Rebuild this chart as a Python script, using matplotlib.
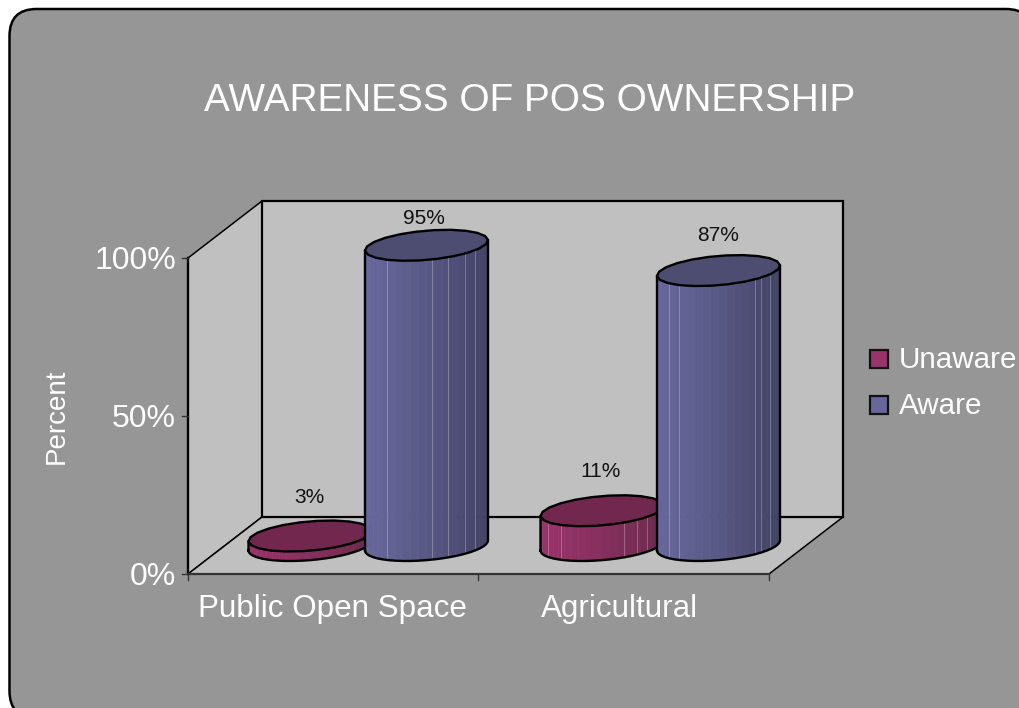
import numpy as np
import matplotlib
matplotlib.use("Agg")
import matplotlib.pyplot as plt
from matplotlib.patches import FancyBboxPatch, Polygon, Rectangle
from matplotlib.colors import to_rgb

plt.rcParams['font.family'] = ['Liberation Sans', 'DejaVu Sans']

categories = ['Public Open Space', 'Agricultural']
series_names = ['Unaware', 'Aware']
unaware = [3, 11]
aware = [95, 87]
y_ticks = [0, 50, 100]
y_tick_labels = ['0%', '50%', '100%']

title = 'AWARENESS OF POS OWNERSHIP'
y_label = 'Percent'

# pseudo 3d box, in pixels of the 1020x708 picture
FRONT_LEFT = 188
FRONT_RIGHT = 769
FLOOR_Y = 574
DX, DY = 74, -57
PX_PER_PCT = 3.16
GROUP_X = [368.25, 660.25]
BAR_OFFSET = {'Unaware': -58.25, 'Aware': 58.25}
CAT_LABEL_X = [332, 620]
RX, RY = 61.5, 15.5
BASE_Y = 545.5
# how far each value label sits above its cylinder top
LABEL_GAP = {'Unaware': [39, 39], 'Aware': [27, 35]}
LABEL_SHIFT = {'Unaware': [-1, -1], 'Aware': [-3, 0]}
# faint facet lines on the sides, distance from the left edge
STREAKS = {('Unaware', 1): [8, 21, 84, 97, 107],
           ('Aware', 0): [22, 67, 83, 100, 110],
           ('Aware', 1): [12, 22, 98, 104, 113]}

BG = '#969696'
WALL = '#c0c0c0'
COLORS = {'Unaware': ('#99336a', '#6a2a4c', '#72284e'),
          'Aware': ('#67679c', '#424264', '#4d4d72')}


def ypos(val):
    return FLOOR_Y - val * PX_PER_PCT


def ellipse_params():
    sx = RY * DX / -DY
    return sx, np.sqrt(RX**2 - sx**2)


def ellipse(cx, cy, n=22):
    # circle lying on the sheared floor plane
    sx, a_len = ellipse_params()
    t = np.linspace(0, 2 * np.pi, n, endpoint=False) + 0.07
    return cx + a_len * np.cos(t) + sx * np.sin(t), cy - RY * np.sin(t)


def cylinder(ax, cx, val, name, idx, z):
    light, dark, top = COLORS[name]
    h = val * PX_PER_PCT
    sx, a_len = ellipse_params()
    start = np.pi + np.arctan2(sx, a_len)
    ang = np.linspace(start, start + np.pi, 25)
    fx = cx + a_len * np.cos(ang) + sx * np.sin(ang)
    fy = BASE_Y - RY * np.sin(ang)
    c1, c2 = np.array(to_rgb(light)), np.array(to_rgb(dark))
    for i in range(len(ang) - 1):
        f = ((fx[i] + fx[i + 1]) / 2 - fx.min()) / (fx.max() - fx.min())
        col = c1 + (c2 - c1) * f**1.3
        ax.add_patch(Polygon([(fx[i], fy[i]), (fx[i + 1], fy[i + 1]),
                              (fx[i + 1], fy[i + 1] - h), (fx[i], fy[i] - h)],
                             closed=True, fc=col, ec=col, lw=0.4, zorder=z))
    for off in STREAKS.get((name, idx), []):
        xs = fx.min() + off
        yb = np.interp(xs, fx, fy)
        ax.plot([xs, xs], [yb - 1, yb - h], color='white', lw=0.6, alpha=0.3, zorder=z + 0.05)
    ox = np.r_[fx, fx[-1], fx[0], fx[0]]
    oy = np.r_[fy, fy[-1] - h, fy[0] - h, fy[0]]
    ax.plot(ox, oy, color='black', lw=1.7, zorder=z + 0.1, solid_joinstyle='round')
    tx, ty = ellipse(cx, BASE_Y - h)
    ax.add_patch(Polygon(np.c_[tx, ty], closed=True, fc=top, ec='black', lw=1.7, zorder=z + 0.2))


fig = plt.figure(figsize=(10.2, 7.08), dpi=100, facecolor='white')
ax = fig.add_axes([0, 0, 1, 1])
ax.set_xlim(0, 1020)
ax.set_ylim(708, 0)
ax.axis('off')

# rounded panel, runs past the right and bottom edges
ax.add_patch(FancyBboxPatch((9.5, 9), 1023.5, 709, boxstyle='round,pad=0,rounding_size=27',
                            fc=BG, ec='black', lw=1.8, zorder=0))

y100 = ypos(100)
# walls and floor
ax.add_patch(Polygon([(FRONT_LEFT, FLOOR_Y), (FRONT_LEFT + DX, FLOOR_Y + DY),
                      (FRONT_LEFT + DX, y100 + DY), (FRONT_LEFT, y100)],
                     closed=True, fc=WALL, ec='black', lw=1.1, zorder=1))
ax.add_patch(Polygon([(FRONT_LEFT, FLOOR_Y), (FRONT_RIGHT, FLOOR_Y),
                      (FRONT_RIGHT + DX, FLOOR_Y + DY), (FRONT_LEFT + DX, FLOOR_Y + DY)],
                     closed=True, fc=WALL, ec='black', lw=1.1, zorder=1))
ax.add_patch(Polygon([(FRONT_LEFT + DX, FLOOR_Y + DY), (FRONT_RIGHT + DX, FLOOR_Y + DY),
                      (FRONT_RIGHT + DX, y100 + DY), (FRONT_LEFT + DX, y100 + DY)],
                     closed=True, fc=WALL, ec='black', lw=1.6, zorder=1.2))
ax.plot([FRONT_LEFT, FRONT_LEFT], [FLOOR_Y, y100], color='black', lw=1.7, zorder=1.4)
ax.plot([FRONT_LEFT, FRONT_RIGHT], [FLOOR_Y, FLOOR_Y], color='#333333', lw=1.6, zorder=1.5)

# ticks
for v, lab in zip(y_ticks, y_tick_labels):
    ax.plot([FRONT_LEFT - 6, FRONT_LEFT], [ypos(v), ypos(v)], color='#333333', lw=1, zorder=1.5)
    ax.text(FRONT_LEFT - 12, ypos(v) + 3, lab, ha='right', va='center', color='white', fontsize=23)
slot = (FRONT_RIGHT - FRONT_LEFT) / len(categories)
for i in range(len(categories) + 1):
    x = FRONT_LEFT + i * slot
    ax.plot([x, x], [FLOOR_Y, FLOOR_Y + 6], color='#333333', lw=1, zorder=1.5)

# bars
for i, cat in enumerate(categories):
    cylinder(ax, GROUP_X[i] + BAR_OFFSET['Unaware'], unaware[i], 'Unaware', i, 2 + i)
    cylinder(ax, GROUP_X[i] + BAR_OFFSET['Aware'], aware[i], 'Aware', i, 2.5 + i)
    for name, vals in (('Unaware', unaware), ('Aware', aware)):
        v = vals[i]
        ax.text(GROUP_X[i] + BAR_OFFSET[name] + LABEL_SHIFT[name][i],
                BASE_Y - v * PX_PER_PCT - LABEL_GAP[name][i], f'{v}%', ha='center',
                va='center', fontsize=15, color='#111111', zorder=6)
    ax.text(CAT_LABEL_X[i], 609, cat, ha='center', va='center', color='white', fontsize=22.6)

ax.text(530, 101, title, ha='center', va='center', color='white', fontsize=27.9)
ax.text(57, 416, y_label, ha='center', va='center', rotation=90, color='white', fontsize=20)

# legend
for y, name in zip((358.5, 404.5), series_names):
    ax.add_patch(Rectangle((870.5, y - 9), 18, 18, fc=COLORS[name][0], ec='#111111', lw=1.6, zorder=3))
    ax.text(899, y + 2, name, ha='left', va='center', color='white', fontsize=21.3)

fig.savefig('out.png', dpi=100, facecolor='white')
